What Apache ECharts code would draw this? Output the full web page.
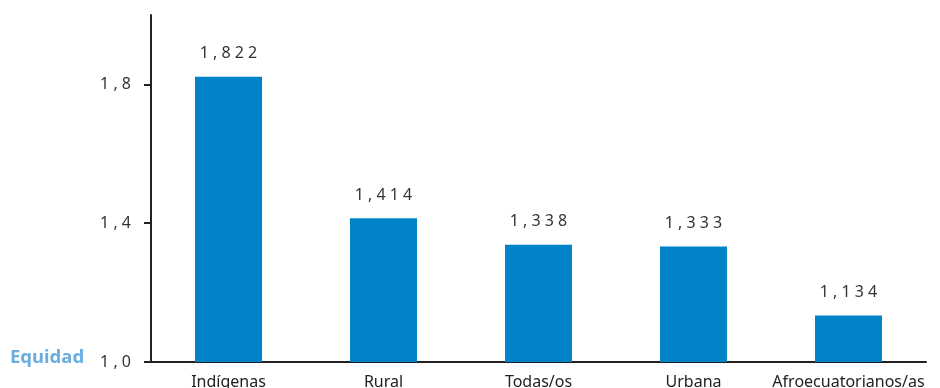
<!DOCTYPE html>
<html><head><meta charset="utf-8">
<script src="https://cdn.jsdelivr.net/npm/echarts@6/dist/echarts.min.js"></script>
<style>html,body{margin:0;padding:0;background:#fff}#c{width:940px;height:388px}</style>
</head><body><div id="c"></div>
<script>
const categories = ['Indígenas', 'Rural', 'Todas/os', 'Urbana', 'Afroecuatorianos/as'];
const values = [1.822, 1.414, 1.338, 1.333, 1.134];
const tickValues = [1.0, 1.4, 1.8];
const axisTitle = 'Equidad';

function fmt(v, d) {
  return v.toFixed(d).replace('.', ',').split('').join(' ');
}
const chart = echarts.init(document.getElementById('c'));
chart.setOption({
  animation: false,
  grid: { left: 151, right: 14, top: 15, bottom: 26, containLabel: false, outerBoundsMode: 'none' },
  graphic: [{ type: 'text', left: 10, top: 348, style: { text: axisTitle, fill: '#6aaee0', font: 'bold 18.5px "Noto Sans", sans-serif' } }],
  xAxis: {
    type: 'category', data: categories,
    axisLine: { lineStyle: { color: '#222', width: 2 } },
    axisTick: { show: false },
    axisLabel: { interval: 0, hideOverlap: false, color: '#222', fontSize: 16, fontFamily: '"Noto Sans", sans-serif', margin: 12 }
  },
  yAxis: {
    type: 'value', min: 1.0, max: 2.0,
    axisLine: { show: true, lineStyle: { color: '#222', width: 2 } },
    axisTick: { show: true, length: 7, lineStyle: { width: 2, color: '#222' }, customValues: tickValues },
    axisLabel: { color: '#333', fontSize: 16, fontFamily: '"Noto Sans", sans-serif', margin: 20, customValues: tickValues, formatter: v => fmt(v, 1) },
    splitLine: { show: false }
  },
  series: [{
    type: 'bar', data: values, barWidth: 67,
    itemStyle: { color: '#0083c9' },
    label: { show: true, position: 'top', distance: 15, color: '#333', fontSize: 16, fontFamily: '"Noto Sans", sans-serif', formatter: p => fmt(p.value, 3) }
  }]
});
</script></body></html>
